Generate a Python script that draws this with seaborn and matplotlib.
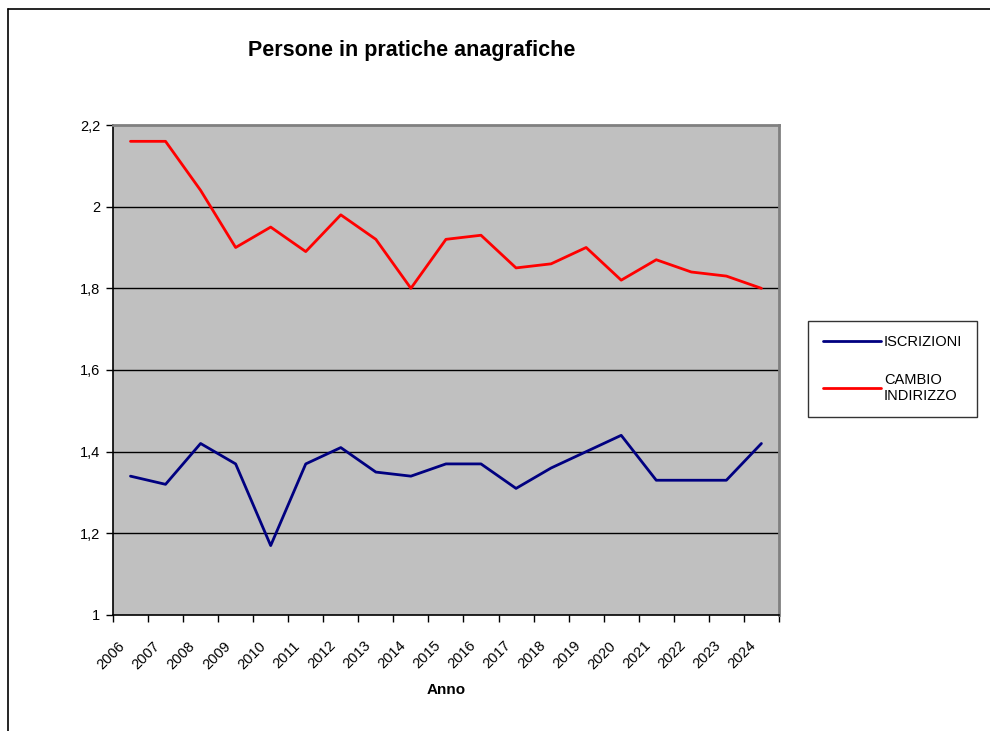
import numpy as np
import pandas as pd
import matplotlib.pyplot as plt
import seaborn as sns
from matplotlib.lines import Line2D
from matplotlib.ticker import FuncFormatter
from matplotlib.transforms import ScaledTranslation

## Data
years = list(range(2006, 2025))
iscrizioni = [1.34, 1.32, 1.42, 1.37, 1.17, 1.37, 1.41, 1.35, 1.34, 1.37,
              1.37, 1.31, 1.36, 1.40, 1.44, 1.33, 1.33, 1.33, 1.42]
cambio = [2.16, 2.16, 2.04, 1.90, 1.95, 1.89, 1.98, 1.92, 1.80, 1.92,
          1.93, 1.85, 1.86, 1.90, 1.82, 1.87, 1.84, 1.83, 1.80]
series_names = ['ISCRIZIONI', 'CAMBIO\nINDIRIZZO']
colors = ['#000080', '#FF0000']

# Long-form table for seaborn
df = pd.DataFrame({
    'Anno': years * 2,
    'valore': iscrizioni + cambio,
    'serie': [series_names[0]] * len(years) + [series_names[1]] * len(years),
})

## Style
sns.set_style('white')
plt.rcParams['font.family'] = ['Liberation Sans', 'DejaVu Sans']
plt.rcParams['text.color'] = 'black'
plt.rcParams['axes.labelcolor'] = 'black'
plt.rcParams['xtick.color'] = 'black'
plt.rcParams['ytick.color'] = 'black'

fig = plt.figure(figsize=(9.9, 7.31), dpi=100)
ax = fig.add_axes([0.1141, 0.1587, 0.6727, 0.6703])
ax.set_facecolor('#C0C0C0')

sns.lineplot(data=df, x='Anno', y='valore', hue='serie', palette=colors,
             linewidth=2.0, ax=ax, legend=False)

# Axis limits: Excel-like category bands
ax.set_xlim(years[0] - 0.5, years[-1] + 0.5)
ax.set_ylim(1, 2.2)

# Horizontal gridlines
ax.set_yticks(np.arange(1, 2.21, 0.2))
ax.yaxis.set_major_formatter(FuncFormatter(lambda v, p: ('%g' % round(v, 1)).replace('.', ',')))
for v in np.arange(1.2, 2.01, 0.2):
    ax.axhline(v, color='black', linewidth=1.0, zorder=0.5)

# Category ticks: marks on band edges, labels in band centres
ax.set_xticks(np.arange(years[0] - 0.5, years[-1] + 0.6, 1))
ax.set_xticklabels([])
ax.set_xticks(years, minor=True)
ax.set_xticklabels([str(y) for y in years], minor=True, rotation=45,
                   ha='right', rotation_mode='anchor', fontsize=10.5)
ax.tick_params(axis='x', which='major', direction='out', length=5, width=1, color='black', bottom=True)
ax.tick_params(axis='x', which='minor', length=0, pad=17)
ax.tick_params(axis='y', direction='out', length=5, width=1, color='black', left=True,
               labelsize=10.5, pad=4)

# Nudge year labels left (after tick_params, which resets transforms)
shift = ScaledTranslation(-9 / 72, 0, fig.dpi_scale_trans)
for tick in ax.xaxis.get_minor_ticks():
    tick.label1.set_transform(tick.label1.get_transform() + shift)

# Spines
for side in ['left', 'bottom']:
    ax.spines[side].set_color('black')
    ax.spines[side].set_linewidth(1.2)
for side in ['top', 'right']:
    ax.spines[side].set_color('#808080')
    ax.spines[side].set_linewidth(2)

ax.set_xlabel('Anno', fontsize=11, fontweight='bold', labelpad=8)
ax.set_ylabel('')

# Title
fig.text(0.416, 0.9316, 'Persone in pratiche anagrafiche', ha='center', va='center',
         fontsize=15.5, fontweight='bold')

# Legend
handles = [Line2D([0], [0], color=c, lw=2, label=n) for c, n in zip(colors, series_names)]
leg = fig.legend(handles=handles, loc='center', bbox_to_anchor=(0.9015, 0.4952),
                 frameon=True, fancybox=False, edgecolor='black', fontsize=10.5,
                 handlelength=4.0, handletextpad=0.2, labelspacing=1.6,
                 borderpad=1.0, borderaxespad=0)
leg.get_frame().set_linewidth(1)

# Chart-area border (left and top edges)
fig.add_artist(Line2D([8 / 990, 8 / 990], [0, 1 - 9 / 731], color='black', lw=1.2))
fig.add_artist(Line2D([8 / 990, 1], [1 - 9 / 731, 1 - 9 / 731], color='black', lw=1.2))

plt.savefig('out.png', dpi=100)
